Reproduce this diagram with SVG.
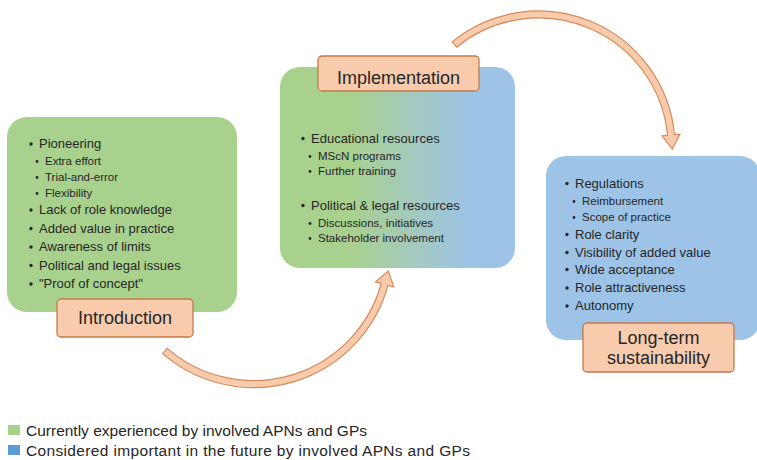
<svg xmlns="http://www.w3.org/2000/svg" width="757" height="460" viewBox="0 0 757 460">
  <defs>
    <linearGradient id="greenToBlue" x1="0" y1="0" x2="1" y2="0">
      <stop offset="0" stop-color="#a9d18e"/>
      <stop offset="0.3" stop-color="#a9d18e"/>
      <stop offset="0.8" stop-color="#9dc3e6"/>
      <stop offset="1" stop-color="#9dc3e6"/>
    </linearGradient>
    <style>
      .box-green { fill: #a9d18e; }
      .box-blue { fill: #9dc3e6; }
      .box-mix { fill: url(#greenToBlue); }
      .label { fill: #f8cbad; stroke: #c47a4a; stroke-width: 1.3; }
      .arrow { fill: #f8cbad; stroke: #d68a5a; stroke-width: 1.2; stroke-linejoin: miter; }
      text { font-family: "Liberation Sans", Arial, sans-serif; fill: #262626; }
      .main { font-size: 13px; }
      .sub { font-size: 11.5px; }
      .title { font-size: 18px; text-anchor: middle; }
      .legend { font-size: 15.5px; }
      .dot { fill: #262626; }
    </style>
  </defs>

  <!-- connectors: curved block arrows between phases -->
  <g id="connectors">
    <path class="arrow" d="M162.67,353.62 A139.2,139.2 0 0 0 388.0,285.37 L393.79,286.97 L388.35,270.94 L375.47,281.92 L381.25,283.51 A132.2,132.2 0 0 1 167.25,348.33 Z"/>
    <path class="arrow" d="M452.28,41.77 A136.5,136.5 0 0 1 674.5,134.67 L679.97,134.15 L672.33,148.94 L662.05,135.84 L667.53,135.33 A129.5,129.5 0 0 0 456.7,47.19 Z"/>
  </g>

  <!-- Introduction phase -->
  <g id="introduction">
    <rect class="box-green" x="7" y="117" width="230" height="195" rx="20"/>
    <circle class="dot" cx="31" cy="144" r="1.7"/>
    <text class="main" x="39" y="147.5">Pioneering</text>
    <circle class="dot" cx="37" cy="161.5" r="1.4"/>
    <text class="sub" x="45" y="165">Extra effort</text>
    <circle class="dot" cx="37" cy="177.5" r="1.4"/>
    <text class="sub" x="45" y="181">Trial-and-error</text>
    <circle class="dot" cx="37" cy="193.5" r="1.4"/>
    <text class="sub" x="45" y="197">Flexibility</text>
    <circle class="dot" cx="31" cy="210" r="1.7"/>
    <text class="main" x="39" y="214">Lack of role knowledge</text>
    <circle class="dot" cx="31" cy="228.5" r="1.7"/>
    <text class="main" x="39" y="232.5">Added value in practice</text>
    <circle class="dot" cx="31" cy="247" r="1.7"/>
    <text class="main" x="39" y="251">Awareness of limits</text>
    <circle class="dot" cx="31" cy="265.5" r="1.7"/>
    <text class="main" x="39" y="269.5">Political and legal issues</text>
    <circle class="dot" cx="31" cy="284" r="1.7"/>
    <text class="main" x="39" y="288">"Proof of concept"</text>
    <rect class="label" x="57" y="299" width="136" height="38" rx="4"/>
    <text class="title" x="125" y="324">Introduction</text>
  </g>

  <!-- Implementation phase -->
  <g id="implementation">
    <rect class="box-mix" x="280" y="67" width="235" height="201" rx="20"/>
    <rect class="label" x="318" y="56" width="161" height="35" rx="4"/>
    <text class="title" x="398.5" y="84">Implementation</text>
    <circle class="dot" cx="303" cy="138.5" r="1.7"/>
    <text class="main" x="311" y="142.5">Educational resources</text>
    <circle class="dot" cx="310" cy="156.5" r="1.4"/>
    <text class="sub" x="318" y="160">MScN programs</text>
    <circle class="dot" cx="310" cy="171.5" r="1.4"/>
    <text class="sub" x="318" y="175">Further training</text>
    <circle class="dot" cx="303" cy="205.5" r="1.7"/>
    <text class="main" x="311" y="209.5">Political &amp; legal resources</text>
    <circle class="dot" cx="310" cy="223.5" r="1.4"/>
    <text class="sub" x="318" y="227">Discussions, initiatives</text>
    <circle class="dot" cx="310" cy="238.5" r="1.4"/>
    <text class="sub" x="318" y="242">Stakeholder involvement</text>
  </g>

  <!-- Long-term sustainability phase -->
  <g id="long-term">
    <rect class="box-blue" x="546" y="156" width="214" height="184" rx="20"/>
    <circle class="dot" cx="567" cy="183.5" r="1.7"/>
    <text class="main" x="575" y="187.5">Regulations</text>
    <circle class="dot" cx="574" cy="201.5" r="1.4"/>
    <text class="sub" x="582" y="205">Reimbursement</text>
    <circle class="dot" cx="574" cy="217.5" r="1.4"/>
    <text class="sub" x="582" y="221">Scope of practice</text>
    <circle class="dot" cx="567" cy="234.5" r="1.7"/>
    <text class="main" x="575" y="238.5">Role clarity</text>
    <circle class="dot" cx="567" cy="252.5" r="1.7"/>
    <text class="main" x="575" y="256.5">Visibility of added value</text>
    <circle class="dot" cx="567" cy="269.5" r="1.7"/>
    <text class="main" x="575" y="273.5">Wide acceptance</text>
    <circle class="dot" cx="567" cy="288" r="1.7"/>
    <text class="main" x="575" y="292">Role attractiveness</text>
    <circle class="dot" cx="567" cy="306" r="1.7"/>
    <text class="main" x="575" y="310">Autonomy</text>
    <rect class="label" x="583" y="323" width="151" height="49" rx="4"/>
    <text class="title" x="658.5" y="344">Long-term</text>
    <text class="title" x="658.5" y="364">sustainability</text>
  </g>

  <!-- legend -->
  <g id="legend">
    <rect x="8" y="425" width="12" height="10" fill="#a9d18e"/>
    <text class="legend" x="26" y="435.5" textLength="341" lengthAdjust="spacing">Currently experienced by involved APNs and GPs</text>
    <rect x="8" y="445" width="12" height="10" fill="#5b9bd5"/>
    <text class="legend" x="26" y="455.5" textLength="444" lengthAdjust="spacing">Considered important in the future by involved APNs and GPs</text>
  </g>
</svg>
